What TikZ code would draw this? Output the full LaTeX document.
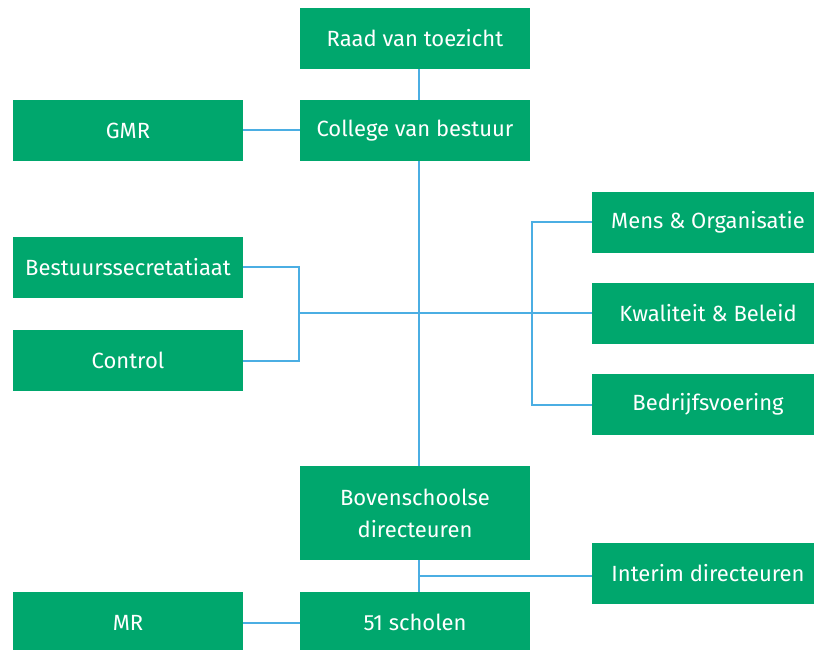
\documentclass[tikz,border=0pt]{standalone}
\usepackage{fontspec}
\setmainfont{Fira Sans}
\definecolor{boxgreen}{HTML}{00A76D}
\definecolor{linkblue}{HTML}{4BAEE3}
\tikzset{>=stealth}

\begin{document}
\begin{tikzpicture}[x=1pt,y=1pt,
    box/.style={fill=boxgreen, text=white, minimum width=230pt, minimum height=61pt,
      inner sep=0pt, align=center, font=\fontsize{22}{32}\selectfont},
    sidebox/.style={box, minimum width=232pt},
    link/.style={draw=linkblue, line width=2pt}]
  \useasboundingbox (0,0) rectangle (814,649);
  \begin{scope}
    \clip (0,0) rectangle (814,649);
    %% middle column
    \node[box] (raad) at (415,610.5) {Raad van toezicht};
    \node[box] (cvb) at (415,518.5) {College van bestuur};
    \node[box, minimum height=94pt] (boven) at (415,136) {Bovenschoolse\\directeuren};
    \node[box] (scholen) at (415,26.5) {51 scholen};

    %% left column
    \node[box] (gmr) at (128,518.5) {GMR};
    \node[box] (secr) at (128,381.5) {Bestuurssecretatiaat};
    \node[box] (control) at (128,288.5) {Control};
    \node[box] (mr) at (128,26.5) {MR};

    %% right column (runs past the edge)
    \node[sidebox] (mens) at (708,426.5) {Mens \& Organisatie};
    \node[sidebox] (kwal) at (708,335.5) {Kwaliteit \& Beleid};
    \node[sidebox] (bedr) at (708,244.5) {Bedrijfsvoering};
    \node[sidebox] (interim) at (708,75.5) {Interim directeuren};

    %% connectors
    \draw[link] ([xshift=4pt]raad.south) -- ([xshift=4pt]cvb.north);
    \draw[link] ([xshift=4pt]cvb.south) -- ([xshift=4pt]boven.north);
    \draw[link] ([xshift=4pt]boven.south) -- ([xshift=4pt]scholen.north);
    \draw[link] (gmr) -- (cvb);
    \draw[link] (mr) -- (scholen);
    \draw[link] (secr.east) -- ++(56,0) |- (control.east);
    \draw[link] (kwal.west) -- ++(-293,0);
    \draw[link] (mens.west) -- ++(-60,0) |- (bedr.west);
    \draw[link] (interim.west) ++(0,-2.5) -- ++(-173,0);
  \end{scope}
\end{tikzpicture}
\end{document}
